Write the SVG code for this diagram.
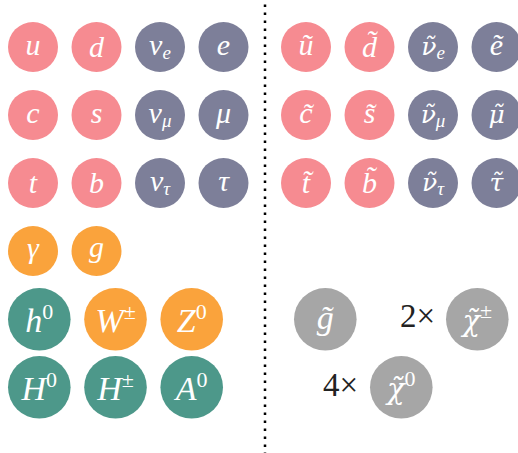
<svg xmlns="http://www.w3.org/2000/svg" width="518" height="453" viewBox="0 0 518 453">
<style>
.q{fill:#f68b91}.l{fill:#7d7f99}.b{fill:#faa33c}.h{fill:#4d988a}.s{fill:#a6a6a6}
text{font-family:"Liberation Serif","DejaVu Serif",serif;}
.t{fill:#ffffff;font-style:italic;font-size:30px;text-anchor:middle}
.T{fill:#ffffff;font-style:italic;font-size:34px;text-anchor:middle}
.dv{font-family:"DejaVu Serif",serif;font-size:25px}
.DV{font-family:"DejaVu Serif",serif;font-size:29px}
.sub{font-size:19px;font-family:"Liberation Serif",serif}
.sup{font-size:22px;font-style:normal;font-family:"Liberation Serif",serif}
.m{fill:#222222;font-size:33px}
</style>
<rect width="518" height="453" fill="#ffffff"/>
<g id="divider">
<line x1="265" y1="4.5" x2="265" y2="453" stroke="#000" stroke-width="2.5" stroke-dasharray="2.5 5.5"/>
</g>
<g id="u"><circle class="q" cx="33" cy="47" r="25"/><text class="t" x="33" y="55">u</text></g>
<g id="d"><circle class="q" cx="96.5" cy="47" r="25"/><text class="t" x="96.5" y="57">d</text></g>
<g id="nue"><circle class="l" cx="160" cy="47" r="25"/><text class="t" x="160" y="55">ν<tspan class="sub" dy="4">e</tspan></text></g>
<g id="e"><circle class="l" cx="223.5" cy="47" r="25"/><text class="t" x="223.5" y="55">e</text></g>
<g id="c"><circle class="q" cx="33" cy="115" r="25"/><text class="t" x="33" y="123">c</text></g>
<g id="s"><circle class="q" cx="96.5" cy="115" r="25"/><text class="t" x="96.5" y="123">s</text></g>
<g id="numu"><circle class="l" cx="160" cy="115" r="25"/><text class="t" x="160" y="123">ν<tspan class="sub" dy="4">μ</tspan></text></g>
<g id="mu"><circle class="l" cx="223.5" cy="115" r="25"/><text class="t" x="223.5" y="123">μ</text></g>
<g id="t"><circle class="q" cx="33" cy="183" r="25"/><text class="t" x="33" y="193">t</text></g>
<g id="b"><circle class="q" cx="96.5" cy="183" r="25"/><text class="t" x="96.5" y="193">b</text></g>
<g id="nutau"><circle class="l" cx="160" cy="183" r="25"/><text class="t" x="160" y="191">ν<tspan class="sub" dy="4">τ</tspan></text></g>
<g id="tau"><circle class="l" cx="223.5" cy="183" r="25"/><text class="t" x="223.5" y="191">τ</text></g>
<g id="gamma"><circle class="b" cx="33" cy="251" r="25"/><text class="t" x="33" y="258">γ</text></g>
<g id="g"><circle class="b" cx="96.5" cy="251" r="25"/><text class="t" x="96.5" y="257">g</text></g>
<g id="h0"><circle class="h" cx="39.3" cy="319.3" r="31.3"/><text class="T" x="39.3" y="332">h<tspan class="sup" dy="-13">0</tspan></text></g>
<g id="W"><circle class="b" cx="115.5" cy="319.3" r="31.3"/><text class="T" x="115.5" y="332">W<tspan class="sup" dy="-13">±</tspan></text></g>
<g id="Z0"><circle class="b" cx="191.7" cy="319.3" r="31.3"/><text class="T" x="191.7" y="332">Z<tspan class="sup" dy="-13">0</tspan></text></g>
<g id="H0"><circle class="h" cx="39.3" cy="387.3" r="31.3"/><text class="T" x="39.3" y="400">H<tspan class="sup" dy="-13">0</tspan></text></g>
<g id="Hpm"><circle class="h" cx="115.5" cy="387.3" r="31.3"/><text class="T" x="115.5" y="400">H<tspan class="sup" dy="-13">±</tspan></text></g>
<g id="A0"><circle class="h" cx="191.7" cy="387.3" r="31.3"/><text class="T" x="191.7" y="400">A<tspan class="sup" dy="-13">0</tspan></text></g>
<g id="su"><circle class="q" cx="306" cy="47" r="25"/><text class="t" x="306" y="55">ũ</text></g>
<g id="sd"><circle class="q" cx="369.5" cy="47" r="25"/><text class="t" x="369.5" y="57">d̃</text></g>
<g id="snue"><circle class="l" cx="433" cy="47" r="25"/><text class="t" x="433" y="55"><tspan class="dv">ν̃</tspan><tspan class="sub" dy="4">e</tspan></text></g>
<g id="se"><circle class="l" cx="496.5" cy="47" r="25"/><text class="t" x="496.5" y="55">ẽ</text></g>
<g id="sc"><circle class="q" cx="306" cy="115" r="25"/><text class="t" x="306" y="123">c̃</text></g>
<g id="ss"><circle class="q" cx="369.5" cy="115" r="25"/><text class="t" x="369.5" y="123">s̃</text></g>
<g id="snumu"><circle class="l" cx="433" cy="115" r="25"/><text class="t" x="433" y="123"><tspan class="dv">ν̃</tspan><tspan class="sub" dy="4">μ</tspan></text></g>
<g id="smu"><circle class="l" cx="496.5" cy="115" r="25"/><text class="t" x="496.5" y="123"><tspan class="dv">μ̃</tspan></text></g>
<g id="st"><circle class="q" cx="306" cy="183" r="25"/><text class="t" x="306" y="193">t̃</text></g>
<g id="sb"><circle class="q" cx="369.5" cy="183" r="25"/><text class="t" x="369.5" y="193">b̃</text></g>
<g id="snutau"><circle class="l" cx="433" cy="183" r="25"/><text class="t" x="433" y="191"><tspan class="dv">ν̃</tspan><tspan class="sub" dy="4">τ</tspan></text></g>
<g id="stau"><circle class="l" cx="496.5" cy="183" r="25"/><text class="t" x="496.5" y="191"><tspan class="dv">τ̃</tspan></text></g>
<g id="gluino"><circle class="s" cx="325.3" cy="319.3" r="31.3"/><text class="T" x="325.3" y="329">g̃</text></g>
<g id="chargino"><text class="m" x="400" y="327">2×</text><circle class="s" cx="477.3" cy="319.3" r="31.3"/><text class="T" x="477.3" y="331"><tspan class="DV">χ̃</tspan><tspan class="sup" dy="-13">±</tspan></text></g>
<g id="neutralino"><text class="m" x="323" y="396">4×</text><circle class="s" cx="401.3" cy="387.3" r="31.3"/><text class="T" x="401.3" y="399"><tspan class="DV">χ̃</tspan><tspan class="sup" dy="-13">0</tspan></text></g>
<g id="connectors"></g>
</svg>
